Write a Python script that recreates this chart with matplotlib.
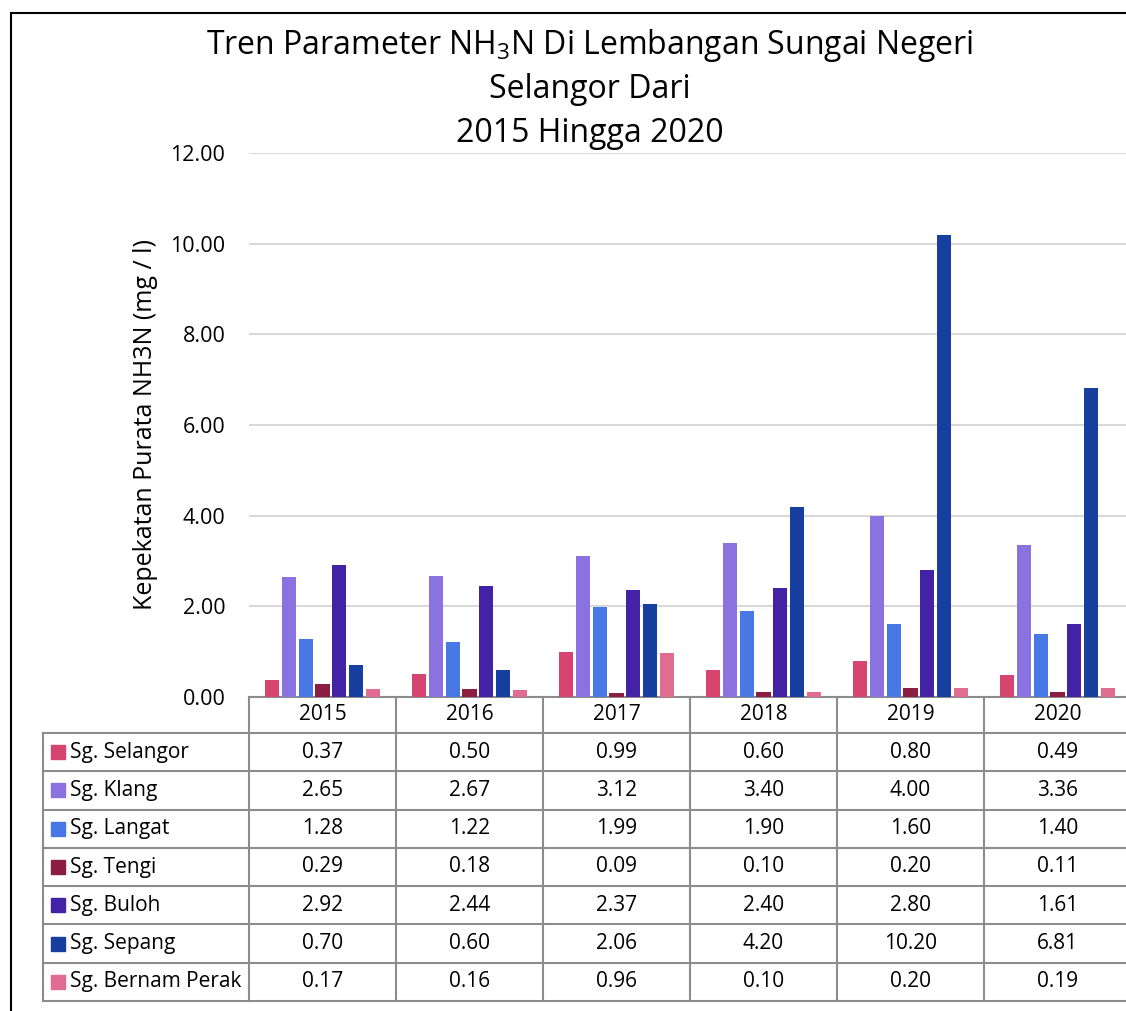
import matplotlib.pyplot as plt
import matplotlib.transforms as mtransforms
from matplotlib.patches import Rectangle
import numpy as np

plt.rcParams['font.family'] = ['Open Sans', 'DejaVu Sans']
plt.rcParams['mathtext.fontset'] = 'custom'
plt.rcParams['mathtext.rm'] = 'Open Sans'
plt.rcParams['mathtext.it'] = 'Open Sans'

years = ['2015', '2016', '2017', '2018', '2019', '2020']
rivers = ['Sg. Selangor', 'Sg. Klang', 'Sg. Langat', 'Sg. Tengi',
          'Sg. Buloh', 'Sg. Sepang', 'Sg. Bernam Perak']
selangor = [0.37, 0.50, 0.99, 0.60, 0.80, 0.49]
klang = [2.65, 2.67, 3.12, 3.40, 4.00, 3.36]
langat = [1.28, 1.22, 1.99, 1.90, 1.60, 1.40]
tengi = [0.29, 0.18, 0.09, 0.10, 0.20, 0.11]
buloh = [2.92, 2.44, 2.37, 2.40, 2.80, 1.61]
sepang = [0.70, 0.60, 2.06, 4.20, 10.20, 6.81]
bernam = [0.17, 0.16, 0.96, 0.10, 0.20, 0.19]
series = [selangor, klang, langat, tengi, buloh, sepang, bernam]
colors = ['#D5456F', '#8A72E0', '#4878E6', '#8B1E42', '#4322A6', '#173FA0', '#E06D91']

W, H = 1126, 1011
fig = plt.figure(figsize=(W / 100, H / 100), dpi=100)

def fx(x):
    return x / W

def fy(y):
    return 1 - y / H

# outer chart frame
fig.patches.append(Rectangle((fx(11), fy(1100)), fx(1200), fy(13) - fy(1100),
                             transform=fig.transFigure, fill=False,
                             edgecolor='black', linewidth=1.5))

ax = fig.add_axes([fx(249), fy(697), fx(882), fy(153) - fy(697)])
x = np.arange(len(years))
slot = 0.114
bw = 0.097
for i, (vals, c) in enumerate(zip(series, colors)):
    ax.bar(x + (i - 3) * slot, vals, width=bw, color=c, zorder=3)

ax.set_xlim(-0.5, 5.5)
ax.set_ylim(0, 12)
ax.set_yticks(np.arange(0, 13, 2))
ax.set_yticklabels([f'{v:.2f}' for v in np.arange(0, 13, 2)], fontsize=15.5)
ax.yaxis.grid(True, color='#D9D9D9', linewidth=1.5, zorder=0)
ax.tick_params(axis='y', length=0, pad=17)
ax.set_xticks([])
for s in ax.spines.values():
    s.set_visible(False)
fig.text(fx(145), fy(425), 'Kepekatan Purata NH3N (mg / l)', rotation=90,
         ha='center', va='center', fontsize=18)

fig.text(fx(590), fy(45), 'Tren Parameter NH$_3$N Di Lembangan Sungai Negeri',
         ha='center', va='center', fontsize=23)
fig.text(fx(590), fy(90), 'Selangor Dari', ha='center', va='center', fontsize=23)
fig.text(fx(590), fy(133), '2015 Hingga 2020', ha='center', va='center', fontsize=23)

# data table
tr = mtransforms.blended_transform_factory(ax.transData, fig.transFigure)
line_c = '#8C8C8C'
top, head_b = 697, 733
row_h = (1001 - 733) / 7
rows_y = [head_b + k * row_h for k in range(8)]

for b in np.arange(-0.5, 6.0, 1.0):
    ax.plot([b, b], [fy(top), fy(rows_y[-1])], transform=tr, color=line_c,
            linewidth=1.5, clip_on=False)
for yy in [top] + rows_y:
    ax.plot([-0.5, 5.6], [fy(yy), fy(yy)], transform=tr, color=line_c,
            linewidth=1.5, clip_on=False)
for yy in rows_y:
    fig.add_artist(plt.Line2D([fx(43), fx(249)], [fy(yy), fy(yy)],
                              color=line_c, linewidth=1.5))
fig.add_artist(plt.Line2D([fx(43), fx(43)], [fy(rows_y[0]), fy(rows_y[-1])],
                          color=line_c, linewidth=1.5))

fs = 15
for j, yr in enumerate(years):
    ax.text(j, fy((top + head_b) / 2), yr, transform=tr, ha='center',
            va='center', fontsize=fs)
for k, (name, vals, c) in enumerate(zip(rivers, series, colors)):
    yc = (rows_y[k] + rows_y[k + 1]) / 2
    fig.patches.append(Rectangle((fx(51), fy(yc + 7)), fx(14), fy(yc - 7) - fy(yc + 7),
                                 transform=fig.transFigure, color=c))
    fig.text(fx(70), fy(yc), name, ha='left', va='center', fontsize=fs)
    for j, v in enumerate(vals):
        ax.text(j, fy(yc), f'{v:.2f}', transform=tr, ha='center',
                va='center', fontsize=fs)

fig.savefig('out.png', dpi=100)
